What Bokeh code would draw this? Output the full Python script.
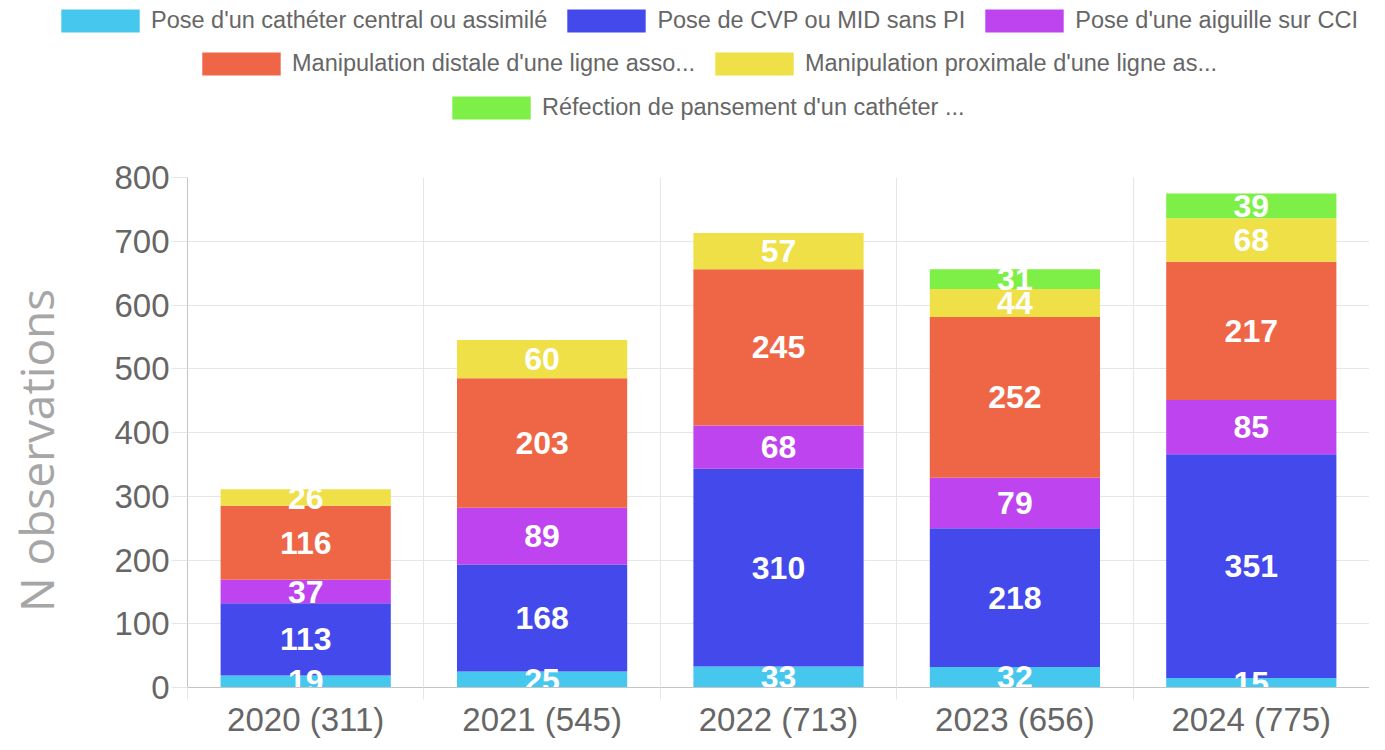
from bokeh.plotting import figure
from bokeh.models import (ColumnDataSource, Legend, LegendItem, Range1d, FixedTicker,
                          SingleIntervalTicker)
from bokeh.layouts import column
from bokeh.core.properties import value
from bokeh.embed import file_html
from bokeh.resources import INLINE

# ---- data ----
years = ["2020", "2021", "2022", "2023", "2024"]
series_names = [
    "Pose d'un cathéter central ou assimilé",
    "Pose de CVP ou MID sans PI",
    "Pose d'une aiguille sur CCI",
    "Manipulation distale d'une ligne asso...",
    "Manipulation proximale d'une ligne as...",
    "Réfection de pansement d'un cathéter ...",
]
central = [19, 25, 33, 32, 15]
cvp_mid = [113, 168, 310, 218, 351]
aiguille = [37, 89, 68, 79, 85]
distale = [116, 203, 245, 252, 217]
proximale = [26, 60, 57, 44, 68]
pansement = [0, 0, 0, 31, 39]
colors = ["#46C8EE", "#4449EC", "#BE44EF", "#EF6646", "#EEE046", "#7EEF46"]
y_ticks_step = 100

series = [central, cvp_mid, aiguille, distale, proximale, pansement]
keys = ["s%d" % i for i in range(len(series))]
totals = [sum(v) for v in zip(*series)]
x_labels = ["%s (%d)" % (y, t) for y, t in zip(years, totals)]
centers = [i + 0.5 for i in range(len(years))]
bounds = list(range(len(years) + 1))

data = {"x": centers}
for k, s in zip(keys, series):
    data[k] = s
source = ColumnDataSource(data)

GRID = "#E6E6E6"
AXIS = "#C4C4C4"
TXT = "#666666"
FONT = "Liberation Sans"

# ---- legend figure ----
top = figure(width=1369, height=121, output_backend="svg", toolbar_location=None,
             x_range=Range1d(0, 1), y_range=Range1d(0, 1),
             x_axis_type=None, y_axis_type=None,
             min_border_left=0, min_border_right=0, min_border_top=0, min_border_bottom=0)
top.outline_line_color = None
top.xgrid.visible = False
top.ygrid.visible = False
unaligned = True
try:
    top.frame_align = False
except Exception:
    unaligned = False
frame_left = 0 if unaligned else 177

# legend proxies: zero-size bars outside the visible range
dummies = []
for c in colors:
    r = top.vbar(x=[-5], top=[0], width=0, fill_color=c, line_color=None)
    dummies.append(r)

rows = [[0, 1, 2], [3, 4], [5]]
row_starts = [51, 192, 442]
row_y = [86, 43, -1]
for row, xs, ys in zip(rows, row_starts, row_y):
    items = [LegendItem(label=series_names[i], renderers=[dummies[i]]) for i in row]
    lg = Legend(items=items, orientation="horizontal", location=(xs - frame_left, ys),
                glyph_width=98, glyph_height=29, label_standoff=2, spacing=10,
                padding=0, margin=0, border_line_color=None, background_fill_alpha=0,
                label_text_font=FONT, label_text_font_size="23.5px",
                label_text_color=TXT, label_height=29)
    top.add_layout(lg, "center")

# ---- main chart ----
p = figure(width=1369, height=619, output_backend="svg", toolbar_location=None,
           x_range=Range1d(0, len(years)), y_range=Range1d(0, 800),
           min_border_left=187, min_border_right=0, min_border_top=56, min_border_bottom=51)
p.outline_line_color = None

p.vbar_stack(keys, x="x", width=0.72, color=colors, line_color=None, source=source)

# data labels
lx, ly, lt = [], [], []
for j in range(len(years)):
    base = 0
    for s in series:
        v = s[j]
        if v > 0:
            lx.append(centers[j])
            ly.append(base + v / 2)
            lt.append(str(v))
        base += v
lsrc = ColumnDataSource(dict(x=lx, y=ly, t=lt))
p.text(x="x", y="y", text="t", source=lsrc, text_align="center", text_baseline="middle",
       text_color="white", text_font=value(FONT), text_font_style="bold",
       text_font_size="32px")

# x axis
xa = p.xaxis[0]
xa.ticker = FixedTicker(ticks=centers, minor_ticks=bounds)
xa.major_label_overrides = {c: l for c, l in zip(centers, x_labels)}
xa.major_tick_out = 0
xa.major_tick_in = 0
xa.minor_tick_out = 12
xa.minor_tick_in = 0
xa.minor_tick_line_color = GRID
xa.axis_line_color = AXIS
xa.major_label_text_font = FONT
xa.major_label_text_font_size = "33px"
xa.major_label_text_color = TXT
xa.major_label_standoff = 1

# y axis
ya = p.yaxis[0]
ya.ticker = SingleIntervalTicker(interval=y_ticks_step, num_minor_ticks=0)
ya.major_tick_out = 16
ya.major_tick_in = 0
ya.major_tick_line_color = GRID
ya.minor_tick_line_color = None
ya.axis_line_color = AXIS
ya.major_label_text_font = FONT
ya.major_label_text_font_size = "33px"
ya.major_label_text_color = TXT
ya.major_label_standoff = 2
ya.axis_label = "N observations\u00a0\u00a0\u00a0"
ya.axis_label_text_font = "Open Sans"
ya.axis_label_text_font_size = "46px"
ya.axis_label_text_font_style = "normal"
ya.axis_label_text_color = "#A6A6A6"
ya.axis_label_standoff = 44

p.xgrid.ticker = FixedTicker(ticks=bounds)
p.xgrid.grid_line_color = GRID
p.ygrid.grid_line_color = GRID

layout = column(top, p, spacing=0)
open("out.html", "w").write(file_html(layout, INLINE))
